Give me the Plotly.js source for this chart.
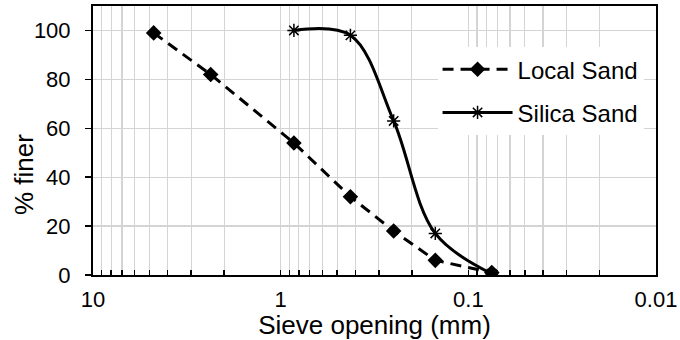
<!DOCTYPE html>
<html>
<head>
<meta charset="utf-8">
<script src="https://cdn.plot.ly/plotly-3.0.1.min.js"></script>
<style>html,body{margin:0;padding:0;background:#fff;}#chart{width:680px;height:340px;}</style>
</head>
<body>
<div id="chart"></div>
<script>
// Sieve openings (mm) and percent finer
const localSieve = [4.75, 2.36, 0.85, 0.425, 0.25, 0.15, 0.075];
const localFiner = [99, 82, 54, 32, 18, 6, 1];
const silicaSieve = [0.85, 0.425, 0.25, 0.15, 0.075];
const silicaFiner = [100, 98, 63, 17, 0.5];
const xTickVals = [10, 1, 0.1, 0.01];
const xTickText = ['10', '1', '0.1', '0.01'];

const FONT = 'Liberation Sans, Arial, sans-serif';

const traces = [
  {
    x: localSieve, y: localFiner, name: 'Local Sand', type: 'scatter', mode: 'lines+markers',
    legendgroup: 'a',
    line: {color: '#000', width: 3, dash: '11px,7px'},
    marker: {symbol: 'diamond', size: 12, color: '#000'}
  },
  {
    x: silicaSieve, y: silicaFiner, name: 'Silica Sand', type: 'scatter', mode: 'lines+markers',
    legendgroup: 'b',
    line: {color: '#000', width: 3, shape: 'spline', smoothing: 1},
    marker: {symbol: 'asterisk-open', size: 11, color: '#000', line: {color: '#000', width: 1.5}}
  }
];

const layout = {
  width: 680, height: 340,
  margin: {l: 93, r: 24, t: 6, b: 65},
  paper_bgcolor: '#fff', plot_bgcolor: '#fff',
  font: {family: FONT, size: 22, color: '#000'},
  showlegend: true,
  legend: {
    x: 0.612, y: 0.847, xanchor: 'left', yanchor: 'top',
    bgcolor: '#fff', borderwidth: 0,
    font: {family: FONT, size: 24, color: '#000'},
    traceorder: 'grouped', tracegroupgap: 9,
    itemwidth: 70
  },
  xaxis: {
    type: 'log', range: [1, -2],
    tickvals: xTickVals, ticktext: xTickText,
    ticks: 'inside', ticklen: 5, tickcolor: '#000', tickwidth: 1.5,
    ticklabelstandoff: 4,
    showgrid: true, gridcolor: '#d4d4d4', gridwidth: 1.2,
    minor: {dtick: 'D1', showgrid: true, gridcolor: '#d4d4d4', gridwidth: 1.2, ticks: 'inside', ticklen: 5, tickcolor: '#000', tickwidth: 1.5},
    showline: true, linecolor: '#000', linewidth: 2, mirror: true,
    zeroline: false,
    tickfont: {family: FONT, size: 22, color: '#000'},
    title: {text: 'Sieve opening (mm)', font: {family: FONT, size: 26, color: '#000'}, standoff: 0}
  },
  yaxis: {
    range: [0, 110], dtick: 20, tick0: 0,
    ticks: 'outside', ticklen: 6, tickcolor: '#000', tickwidth: 1.5,
    ticklabelstandoff: 10,
    showgrid: true, gridcolor: '#d4d4d4', gridwidth: 1.2,
    showline: true, linecolor: '#000', linewidth: 2, mirror: true,
    zeroline: false,
    tickfont: {family: FONT, size: 22, color: '#000'}
  },
  annotations: [{
    text: '% finer', xref: 'paper', yref: 'paper', x: -0.1226, y: 0.375,
    xanchor: 'center', yanchor: 'middle', textangle: -90, showarrow: false,
    font: {family: FONT, size: 26, color: '#000'}
  }]
};

Plotly.newPlot('chart', traces, layout, {displayModeBar: false, staticPlot: true});
</script>
</body>
</html>
